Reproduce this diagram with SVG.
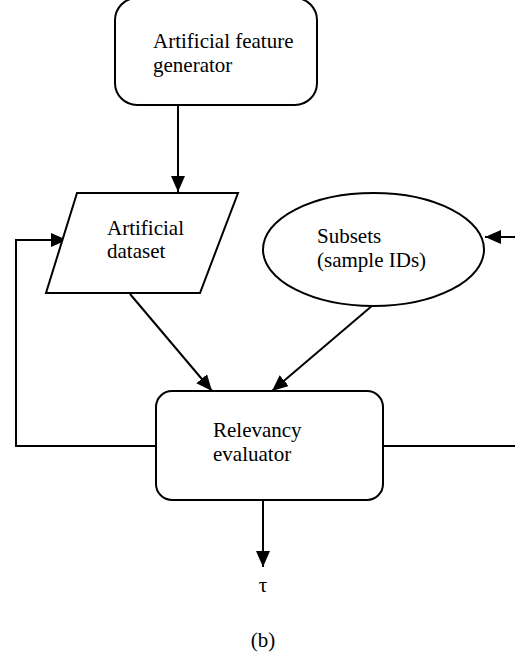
<svg xmlns="http://www.w3.org/2000/svg" width="515" height="661" viewBox="0 0 515 661">
<style>
.shape{fill:#fff;stroke:#000;stroke-width:2}
.ln{fill:none;stroke:#000;stroke-width:2}
text{font-family:"Liberation Serif","Times New Roman",serif;font-size:21px;fill:#000}
</style>
<defs>
<marker id="ah" viewBox="0 0 16 14" refX="16" refY="7" markerWidth="16" markerHeight="14" markerUnits="userSpaceOnUse" orient="auto">
<path d="M0,0 L16,7 L0,14 Z" fill="#000"/>
</marker>
</defs>
<rect width="515" height="661" fill="#fff"/>
<g id="connectors">
<line class="ln" x1="178" y1="105" x2="178" y2="192" marker-end="url(#ah)"/>
<line class="ln" x1="130" y1="294" x2="212" y2="391" marker-end="url(#ah)"/>
<line class="ln" x1="373" y1="305" x2="272" y2="391" marker-end="url(#ah)"/>
<polyline class="ln" points="156,446 16,446 16,240 67,240" marker-end="url(#ah)"/>
<polyline class="ln" points="383,446 516,446"/>
<line class="ln" x1="516" y1="237" x2="485" y2="237" marker-end="url(#ah)"/>
<line class="ln" x1="263" y1="500" x2="263" y2="567" marker-end="url(#ah)"/>
</g>
<g id="generator">
<rect class="shape" x="115" y="-2" width="202" height="107" rx="22"/>
<text x="153" y="48">Artificial feature</text>
<text x="153" y="72">generator</text>
</g>
<g id="dataset">
<polygon class="shape" points="77,193 238,193 200,293 46,293"/>
<text x="107" y="235">Artificial</text>
<text x="107" y="258">dataset</text>
</g>
<g id="subsets">
<ellipse class="shape" cx="373.5" cy="249.5" rx="110.5" ry="56.5"/>
<text x="317" y="243">Subsets</text>
<text x="317" y="267">(sample IDs)</text>
</g>
<g id="evaluator">
<rect class="shape" x="156" y="391" width="227" height="109" rx="16"/>
<text x="213" y="437">Relevancy</text>
<text x="213" y="461">evaluator</text>
</g>
<g id="output">
<text x="263" y="592" text-anchor="middle">τ</text>
</g>
<text x="263" y="647" text-anchor="middle">(b)</text>
</svg>
